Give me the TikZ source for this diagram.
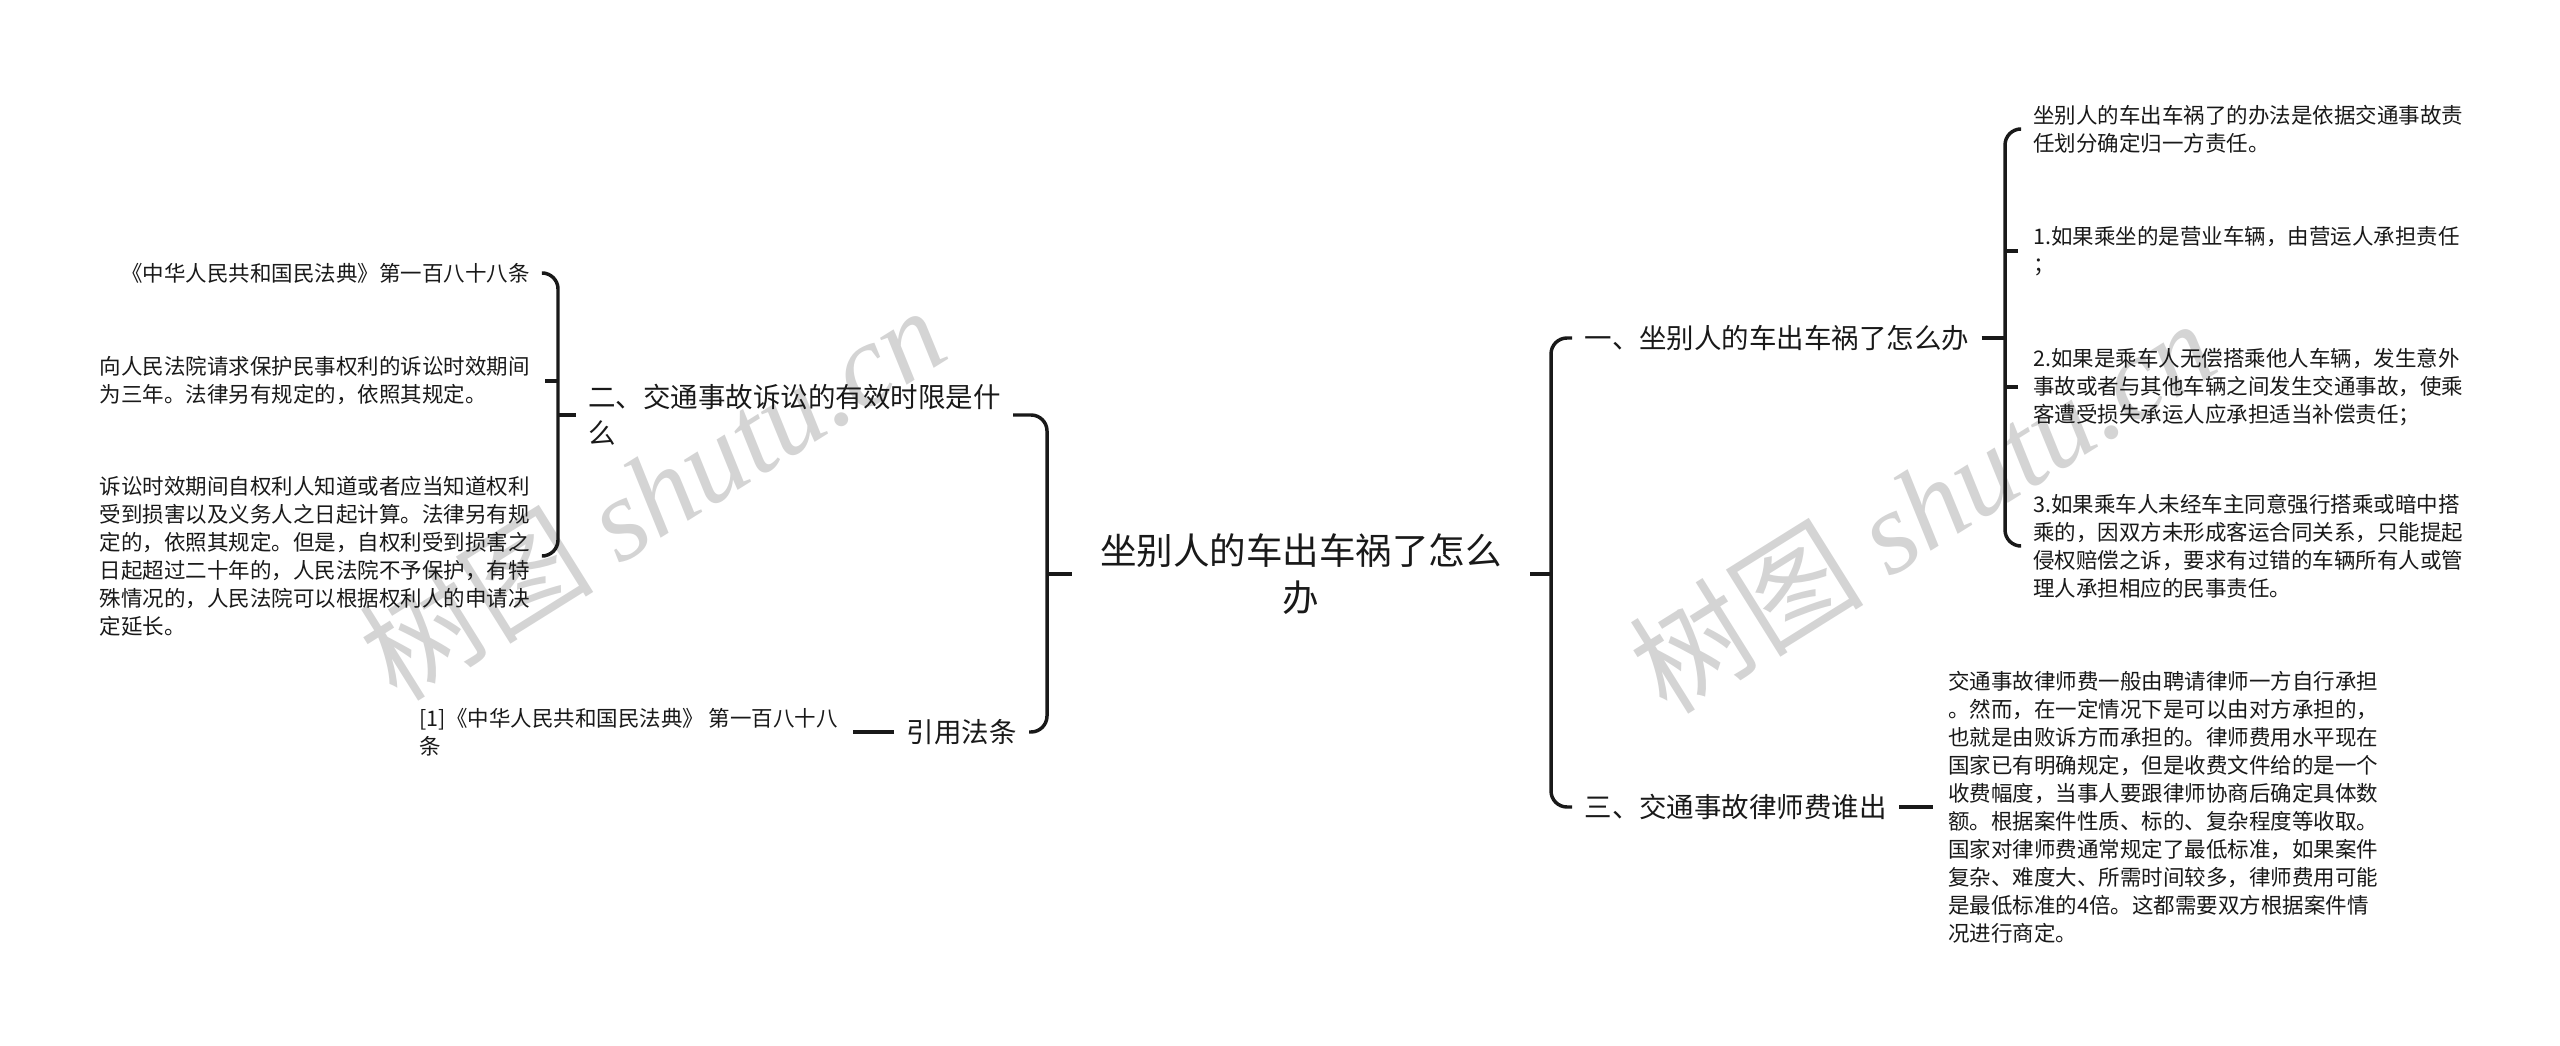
\documentclass[tikz,border=0pt]{standalone}
\usepackage{fontspec}
\setmainfont{Noto Sans CJK SC}
\newfontfamily\wmserif{Liberation Serif}
\newfontfamily\wmcjk{Noto Sans CJK SC}
\definecolor{wmgray}{RGB}{212,212,212}
\definecolor{ink}{RGB}{25,25,25}
\begin{document}
\begin{tikzpicture}[x=0.375pt,y=-0.375pt,
  conn/.style={line width=1.3pt, ink, rounded corners=6pt},
  rootnode/.style={font=\fontsize{13.7pt}{17.6pt}\selectfont, text=ink, align=center, inner xsep=10.5pt, inner ysep=2pt},
  lvone/.style={font=\fontsize{10.3pt}{13.5pt}\selectfont, text=ink, align=left, inner xsep=4.5pt, inner ysep=2pt},
  leaf/.style={font=\fontsize{8.06pt}{10.5pt}\selectfont, text=ink, align=left, inner xsep=5.5pt, inner ysep=2pt},
  wm/.style={text=wmgray, rotate=32, font=\fontsize{44pt}{44pt}\selectfont, inner sep=0pt}
]
\useasboundingbox (0,0) rectangle (2560,1046);
% watermarks
\node[wm] (wm1) at (652,492) {\wmcjk 树图 \wmserif\itshape shutu.cn};
\node[wm] (wm2) at (1922,505) {\wmcjk 树图 \wmserif\itshape shutu.cn};

% root
\node[rootnode] (root) at (1301,574) {坐别人的车出车祸了怎么\\办};

% right level one
\node[lvone, anchor=west] (B1) at (1572,338) {一、坐别人的车出车祸了怎么办};
\node[lvone, anchor=west] (B3) at (1572,807) {三、交通事故律师费谁出};

% left level one
\node[lvone, anchor=east] (B2) at (1013,415) {二、交通事故诉讼的有效时限是什\\么};
\node[lvone, anchor=east] (B4) at (1029,732) {引用法条};

% right leaves
\node[leaf, anchor=west] (R1) at (2018,129) {坐别人的车出车祸了的办法是依据交通事故责\\任划分确定归一方责任。};
\node[leaf, anchor=west] (R2) at (2018,251) {1.如果乘坐的是营业车辆，由营运人承担责任\\；};
\node[leaf, anchor=west] (R3) at (2018,387) {2.如果是乘车人无偿搭乘他人车辆，发生意外\\事故或者与其他车辆之间发生交通事故，使乘\\客遭受损失承运人应承担适当补偿责任；};
\node[leaf, anchor=west] (R4) at (2018,546) {3.如果乘车人未经车主同意强行搭乘或暗中搭\\乘的，因双方未形成客运合同关系，只能提起\\侵权赔偿之诉，要求有过错的车辆所有人或管\\理人承担相应的民事责任。};
\node[leaf, anchor=west] (R5) at (1933,807) {交通事故律师费一般由聘请律师一方自行承担\\。然而，在一定情况下是可以由对方承担的，\\也就是由败诉方而承担的。律师费用水平现在\\国家已有明确规定，但是收费文件给的是一个\\收费幅度，当事人要跟律师协商后确定具体数\\额。根据案件性质、标的、复杂程度等收取。\\国家对律师费通常规定了最低标准，如果案件\\复杂、难度大、所需时间较多，律师费用可能\\是最低标准的4倍。这都需要双方根据案件情\\况进行商定。};

% left leaves
\node[leaf, anchor=east] (L1) at (545,273) {《中华人民共和国民法典》第一百八十八条};
\node[leaf, anchor=east] (L2) at (545,381) {向人民法院请求保护民事权利的诉讼时效期间\\为三年。法律另有规定的，依照其规定。};
\node[leaf, anchor=east] (L3) at (545,556) {诉讼时效期间自权利人知道或者应当知道权利\\受到损害以及义务人之日起计算。法律另有规\\定的，依照其规定。但是，自权利受到损害之\\日起超过二十年的，人民法院不予保护，有特\\殊情况的，人民法院可以根据权利人的申请决\\定延长。};
\node[leaf, anchor=east] (L4) at (853,732) {[1]《中华人民共和国民法典》 第一百八十八\\条};

% junction coordinates
\coordinate (vR) at (1551,574);
\coordinate (vL) at (1047,574);
\coordinate (v1) at (2005,338);
\coordinate (v2) at (558,415);

% root connectors
\draw[conn] (root.east) -- (vR);
\draw[conn] (B1.west) -| (vR) |- (B3.west);
\draw[conn] (root.west) -- (vL);
\draw[conn] (B2.east) -| (vL) |- (B4.east);

% B1 children
\draw[conn] (B1.east) -- (v1);
\draw[conn] (R1.west) -| (v1) |- (R4.west);
\draw[conn] (R2.west) -- (R2.west -| v1);
\draw[conn] (R3.west) -- (R3.west -| v1);

% B3 child
\draw[conn] (B3.east) -- (R5.west);

% B2 children
\draw[conn] (B2.west) -- (v2);
\draw[conn] (L1.east) -| (v2) |- (L3.east);
\draw[conn] (L2.east) -- (L2.east -| v2);

% B4 child
\draw[conn] (B4.west) -- (L4.east);
\end{tikzpicture}
\end{document}
